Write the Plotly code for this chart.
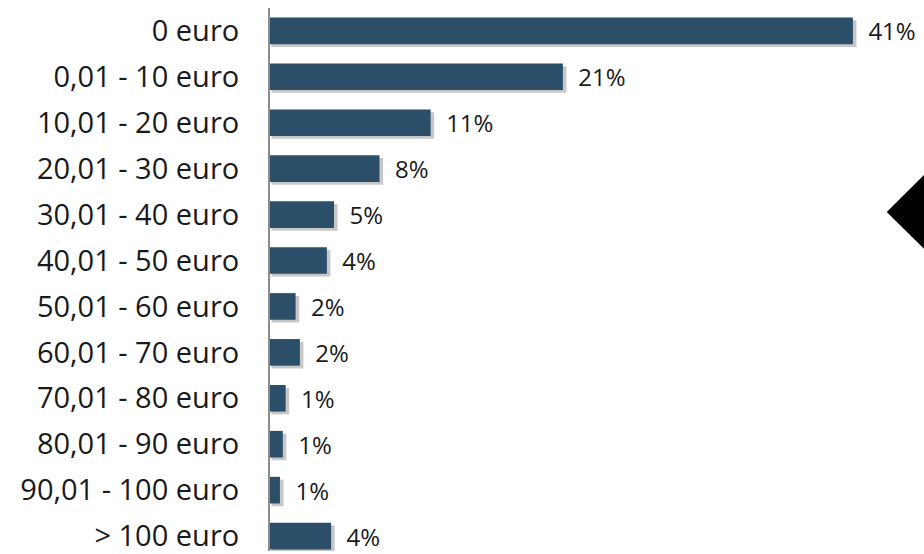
import plotly.graph_objects as go

# categories (top to bottom) and shares
categories = ["0 euro", "0,01 - 10 euro", "10,01 - 20 euro", "20,01 - 30 euro",
              "30,01 - 40 euro", "40,01 - 50 euro", "50,01 - 60 euro", "60,01 - 70 euro",
              "70,01 - 80 euro", "80,01 - 90 euro", "90,01 - 100 euro", "> 100 euro"]
shares = [41.0, 20.6, 11.3, 7.7, 4.5, 4.0, 1.8, 2.1, 1.1, 0.9, 0.7, 4.3]
labels = ["41%", "21%", "11%", "8%", "5%", "4%", "2%", "2%", "1%", "1%", "1%", "4%"]

BAR = "#2b4f69"
W = 0.58
FONT = "Open Sans, Liberation Sans, sans-serif"

fig = go.Figure()

# soft drop shadow behind each bar
fig.add_trace(go.Bar(
    y=categories, x=[v + 0.15 for v in shares], base=0.1, orientation="h",
    width=W, offset=-W / 2 + 0.06,
    marker=dict(color="rgba(0,0,0,0.22)", line=dict(width=0)),
    hoverinfo="skip", showlegend=False,
))

fig.add_trace(go.Bar(
    y=categories, x=shares, orientation="h", width=W, offset=-W / 2,
    marker=dict(color=BAR, line=dict(width=0)),
    text=["  " + t for t in labels], textposition="outside", cliponaxis=False,
    constraintext="none",
    textfont=dict(family=FONT, size=24, color="#1a1a1a"),
    showlegend=False,
))

# black diamond cut off at the right edge
x0, xm, x1 = 0.943, 1.0566, 1.1697
yt, ym, yb = 0.760, 0.6245, 0.489
fig.add_shape(type="path", xref="paper", yref="paper",
              path=f"M {x0},{ym} L {xm},{yt} L {x1},{ym} L {xm},{yb} Z",
              fillcolor="black", line=dict(width=0), layer="above")

fig.update_layout(
    width=924, height=554,
    margin=dict(l=270, r=0, t=8, b=0),
    paper_bgcolor="white", plot_bgcolor="white",
    barmode="overlay",
    font=dict(family=FONT, color="#1a1a1a"),
    xaxis=dict(range=[0, 46], visible=False, fixedrange=True),
    yaxis=dict(
        type="category", categoryorder="array", categoryarray=categories,
        range=[11.325, -0.498],
        showline=True, linecolor="#8c8c8c", linewidth=2,
        showgrid=False, zeroline=False, ticks="",
        ticklabelstandoff=23,
        tickfont=dict(size=29, color="#1a1a1a"),
    ),
)

# page has a default 8px body margin; drop it so the figure fills the window
fig.write_html("out.html", config={"displayModeBar": False},
               post_script="document.body.style.margin='0';document.body.style.overflow='hidden';")
